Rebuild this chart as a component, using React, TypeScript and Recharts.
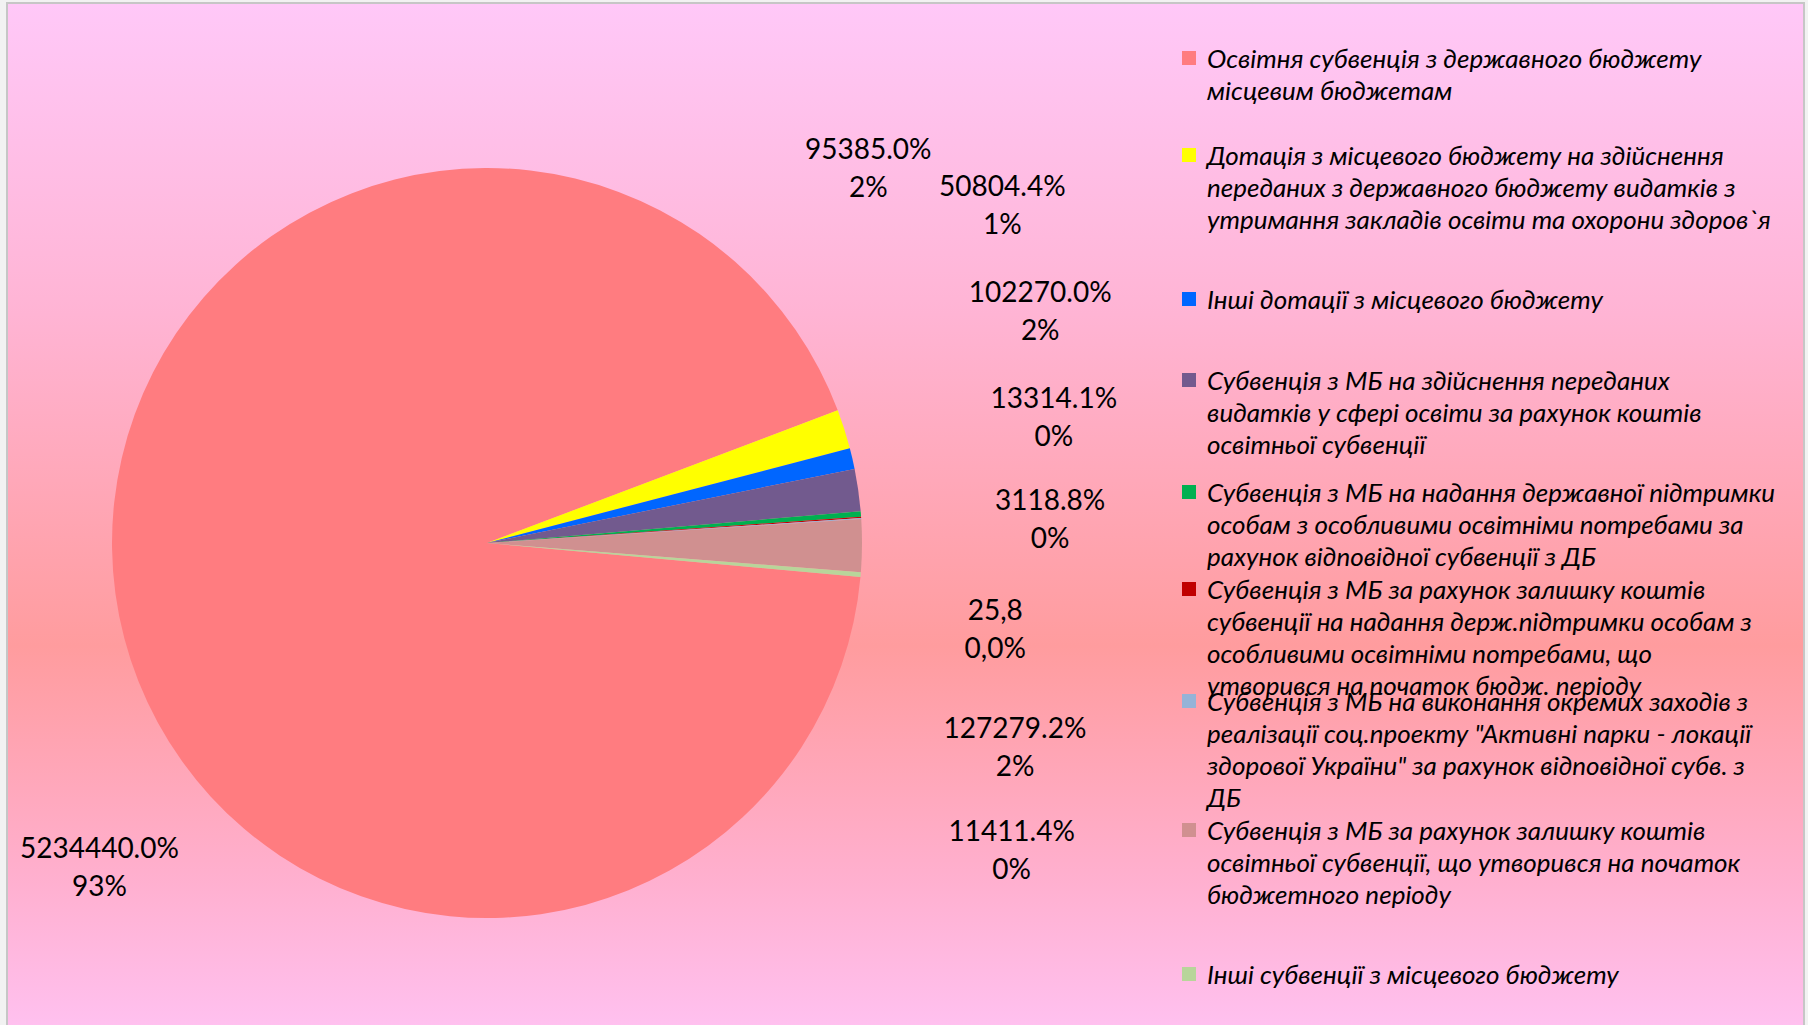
import { PieChart, Pie, Cell, Legend } from 'recharts'

const categories = [
  'Освітня субвенція з державного бюджету\nмісцевим бюджетам',
  'Дотація з місцевого бюджету на здійснення\nпереданих з державного бюджету видатків з\nутримання закладів освіти та охорони здоров`я',
  'Інші дотації з місцевого бюджету',
  'Субвенція з МБ на здійснення переданих\nвидатків у сфері освіти за рахунок коштів\nосвітньої субвенції',
  'Субвенція з МБ на надання державної підтримки\nособам з особливими освітніми потребами за\nрахунок відповідної субвенції з ДБ',
  'Субвенція з МБ за рахунок залишку коштів\nсубвенції на надання держ.підтримки особам з\nособливими освітніми потребами, що\nутворився на початок бюдж. періоду',
  'Субвенція з МБ на виконання окремих заходів з\nреалізації соц.проекту "Активні парки - локації\nздорової України" за рахунок відповідної субв. з\nДБ',
  'Субвенція з МБ за рахунок залишку коштів\nосвітньої субвенції, що утворився на початок\nбюджетного періоду',
  'Інші субвенції з місцевого бюджету',
]

const values = [52344.4, 953.85, 508.044, 1022.7, 133.141, 31.188, 25.8, 1272.792, 114.114]

// 'pct' -> value shown with Excel percent format, 'raw' -> plain number with comma
const valueFormats = ['pct', 'pct', 'pct', 'pct', 'pct', 'pct', 'raw', 'pct', 'pct']

const colors = ['#FF7C80', '#FFFF00', '#0066FF', '#725A8E', '#00B050', '#C00000', '#95B3D7', '#D09090', '#B8D59A']

// manual label placement, offset from the slice's rim point
const labelOffsets = [
  [-16, 272],
  [24, -262],
  [150, -255],
  [182, -180],
  [193, -98],
  [189, 1],
  [134, 109],
  [153, 200],
  [151, 274],
]

const data = categories.map((name, i) => ({ name, value: values[i] }))

const W = 1808
const H = 1025
const RAD = Math.PI / 180

function renderLabel(props: any) {
  const { cx, cy, midAngle, outerRadius, index, value, percent } = props
  const [dx, dy] = labelOffsets[index]
  const x = cx + outerRadius * Math.cos(-midAngle * RAD) + dx
  const y = cy + outerRadius * Math.sin(-midAngle * RAD) + dy
  let line1: string
  let line2: string
  if (valueFormats[index] === 'raw') {
    line1 = value.toFixed(1).replace('.', ',')
    line2 = (percent * 100).toFixed(1).replace('.', ',') + '%'
  } else {
    line1 = (value * 100).toFixed(1) + '%'
    line2 = Math.round(percent * 100) + '%'
  }
  return (
    <text
      x={x}
      y={y}
      textAnchor="middle"
      dominantBaseline="central"
      fill="#000"
      style={{ fontFamily: 'Lato', fontSize: 28 }}
    >
      <tspan x={x} y={y - 19}>{line1}</tspan>
      <tspan x={x} y={y + 19}>{line2}</tspan>
    </text>
  )
}

function renderLegend({ payload }: any) {
  return (
    <div style={{ position: 'relative', width: W, height: H }}>
      {(payload || []).map((p: any, i: number) => (
        <div
          key={i}
          style={{
            position: 'absolute',
            left: 1182,
            top: 74 + i * 112.5,
            transform: 'translateY(-50%)',
            display: 'flex',
            alignItems: 'flex-start',
          }}
        >
          <div style={{ width: 14, height: 14, marginTop: 9, background: colors[i], flexShrink: 0 }} />
          <div
            style={{
              marginLeft: 11,
              whiteSpace: 'pre',
              fontFamily: 'Lato',
              fontStyle: 'italic',
              fontSize: 26,
              lineHeight: '32px',
              color: '#000',
            }}
          >
            {categories[i]}
          </div>
        </div>
      ))}
    </div>
  )
}

export default function App() {
  return (
    <div style={{ position: 'absolute', left: 0, top: 0, width: W, height: H, background: '#F2F2F2', overflow: 'hidden' }}>
      <div
        style={{
          position: 'absolute',
          left: 6,
          top: 2,
          width: W - 6 - 3 - 4,
          height: H + 10,
          border: '2px solid #C6C6C6',
          background: 'linear-gradient(to bottom, #FFC8F8 0%, #FFB4D4 30%, #FF9C9E 62%, #FFB0D0 85%, #FFC2F2 100%)',
        }}
      />
      <div style={{ position: 'absolute', left: 0, top: 0 }}>
        <PieChart width={W} height={H} margin={{ top: 0, right: 0, bottom: 0, left: 0 }}>
          <Pie
            data={data}
            dataKey="value"
            nameKey="name"
            cx={487}
            cy={543}
            outerRadius={375}
            startAngle={-5.2}
            endAngle={-365.2}
            stroke="none"
            label={renderLabel}
            labelLine={false}
            isAnimationActive={false}
          >
            {data.map((_, i) => (
              <Cell key={i} fill={colors[i]} />
            ))}
          </Pie>
          <Legend
            content={renderLegend}
            wrapperStyle={{ position: 'absolute', left: 0, top: 0, width: W, height: H }}
          />
        </PieChart>
      </div>
    </div>
  )
}
